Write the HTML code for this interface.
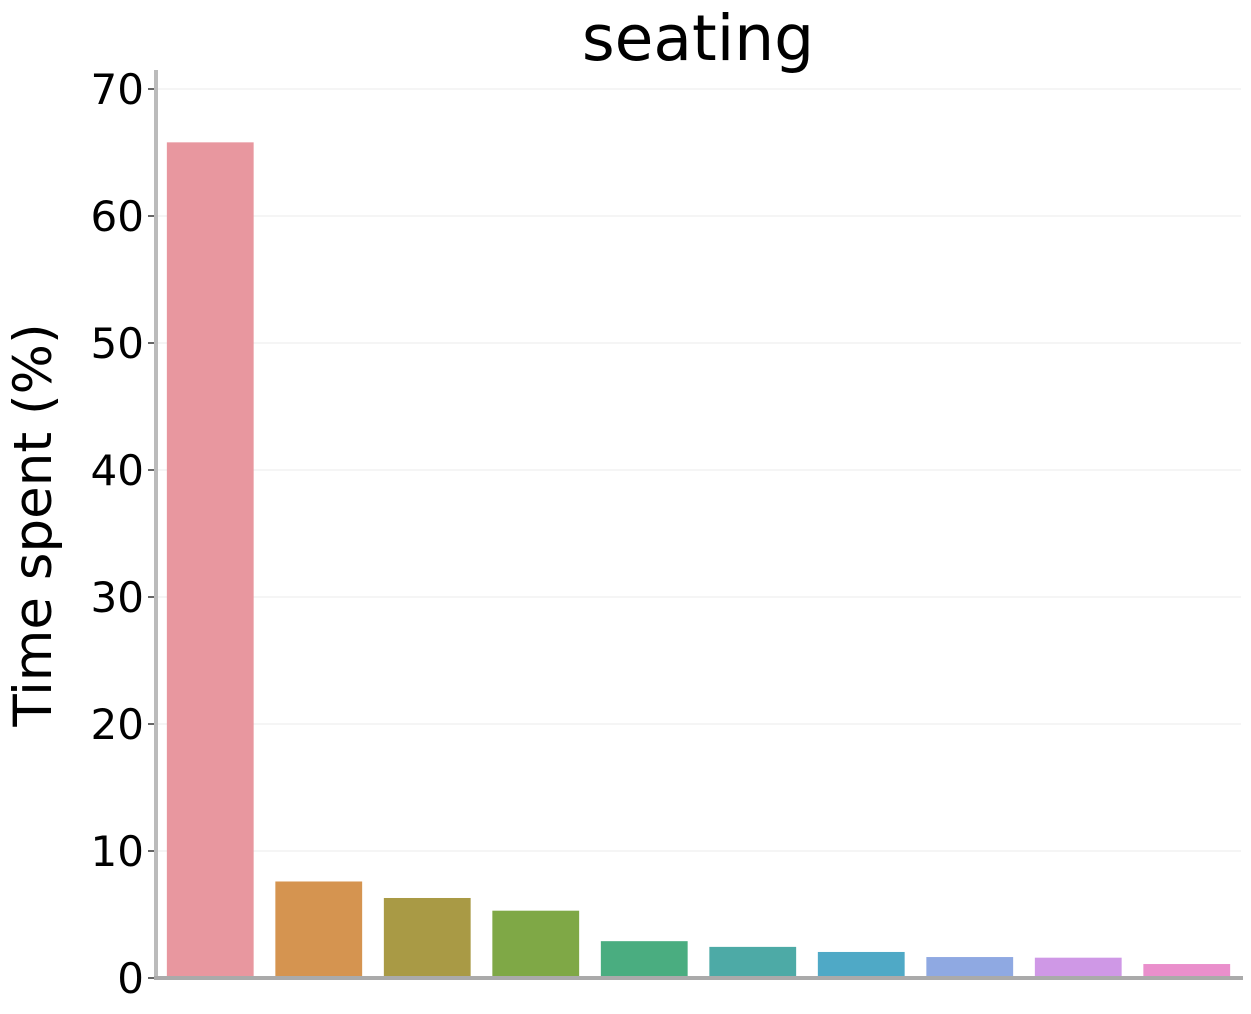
<!DOCTYPE html>
<html><head><meta charset="utf-8"><style>
body{margin:0;background:#fff;}
svg{display:block;font-family:"DejaVu Sans","Liberation Sans",sans-serif;}
</style></head><body>
<svg id="chart" width="1251" height="1014">
<text x="698" y="60" font-size="63" text-anchor="middle">seating</text>
<text transform="translate(51,525) rotate(-90)" font-size="53" text-anchor="middle">Time spent (%)</text>
<g id="grid"></g><g id="bars"></g><g id="axes"></g>
</svg>
<script>
const categories=["c1","c2","c3","c4","c5","c6","c7","c8","c9","c10"];
const values=[65.8,7.6,6.3,5.3,2.9,2.45,2.05,1.65,1.6,1.1];
const colors=["#e8979f","#d59450","#a99a45","#7fa846","#4aad80","#4daaa6","#4fa9c6","#8fa9e2","#cf98e6","#ea8fcc"];
const yTicks=[0,10,20,30,40,50,60,70];
const NS="http://www.w3.org/2000/svg";
const x0=156,x1=1241,y0=978,yTop=89;
const y=v=>y0-(v/70)*(y0-yTop);
const band=(x1-x0)/categories.length;
const xb=i=>x0+band*i+band*0.1;
function mk(t,a,p){const e=document.createElementNS(NS,t);for(const k in a)e.setAttribute(k,a[k]);p.appendChild(e);return e;}
const grid=document.getElementById('grid'),bars=document.getElementById('bars'),axes=document.getElementById('axes');
yTicks.forEach(v=>{
 if(v>0){const g=mk('line',{x1:x0,x2:x1,y1:y(v),y2:y(v),stroke:'#ebebeb','stroke-width':1},grid);
 
 }
 const t=mk('line',{x1:148,x2:156,y1:y(v),y2:y(v),stroke:'#333','stroke-width':1.5},axes);
 
 
 const l=mk('text',{x:144,y:y(v)+15,'font-size':42,'text-anchor':'end'},axes);
 l.textContent=v;
 
 
});
values.forEach((v,i)=>{
 const r=mk('rect',{x:xb(i),y:y(v),width:band*0.8,height:y0-y(v),fill:colors[i]},bars);
 
 
});
const ax=mk('line',{x1:156,x2:156,y1:70,y2:980,stroke:'#bbb','stroke-width':4},axes);


const bx=mk('line',{x1:154,x2:1243,y1:978,y2:978,stroke:'#aaa','stroke-width':4},axes);


</script>
</body></html>
